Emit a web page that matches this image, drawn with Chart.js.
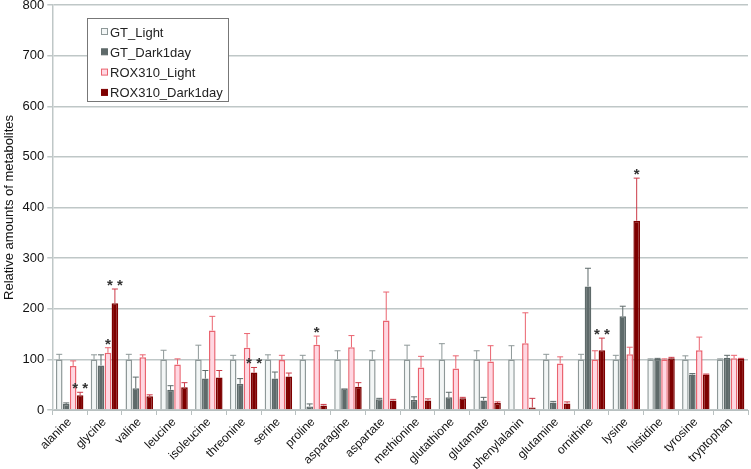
<!DOCTYPE html>
<html>
<head>
<meta charset="utf-8">
<script src="https://cdn.jsdelivr.net/npm/chart.js@4/dist/chart.umd.min.js"></script>
<style>
  html, body { margin: 0; padding: 0; background: #fff; }
  #wrap { width: 751px; height: 469px; }
</style>
</head>
<body>
<div id="wrap"><canvas id="myChart" width="751" height="469"></canvas></div>
<script>
// dati
var metabolites = ["alanine", "glycine", "valine", "leucine", "isoleucine", "threonine", "serine", "proline", "asparagine", "aspartate", "methionine", "glutathione", "glutamate", "phenylalanin", "glutamine", "ornithine", "lysine", "histidine", "tyrosine", "tryptophan"];

var gtLight     = [100, 100, 100, 100, 100, 100, 100, 100, 100, 100, 100, 100, 100, 100, 100, 100, 100, 100, 100, 100];
var gtLightErr  = [10, 9, 10, 18, 28, 8, 9, 8, 17, 17, 28, 31, 17, 27, 10, 10, 8, 1, 7, 1];
var gtDark      = [12, 88, 43, 40, 62, 52, 62, 7, 43, 21, 20, 25, 19, 2, 15, 244, 185, 101, 70, 103];
var gtDarkErr   = [2, 21, 22, 8, 16, 10, 13, 5, 0, 2, 6, 10, 6, 0, 2, 36, 20, 1, 2, 5];
var roxLight    = [87, 113, 104, 90, 157, 123, 99, 129, 124, 177, 84, 82, 96, 132, 92, 100, 110, 100, 118, 102];
var roxLightErr = [10, 10, 5, 11, 28, 28, 9, 17, 23, 56, 22, 25, 31, 60, 13, 17, 14, 1, 26, 6];
var roxDark     = [29, 211, 27, 45, 64, 74, 66, 9, 46, 19, 19, 23, 14, 5, 13, 118, 374, 102, 70, 101];
var roxDarkErr  = [6, 28, 3, 9, 14, 10, 7, 2, 8, 2, 3, 2, 2, 18, 3, 24, 84, 2, 1, 1];

// asterischi di significatività
var sigRoxLight = ["", "*", "", "", "", "", "", "*", "", "", "", "", "", "", "", "", "", "", "", ""];
var sigRoxDark  = ["* *", "* *", "", "", "", "* *", "", "", "", "", "", "", "", "", "", "* *", "*", "", "", ""];

var yTicks = [0, 100, 200, 300, 400, 500, 600, 700, 800];

var FONT = "'Liberation Sans', Arial, Helvetica, sans-serif";

var series = [
  { label: "GT_Light", data: gtLight, err: gtLightErr, sig: null, bg: "#f3f6f6", border: "#8e9898", errColor: "#8e9898" },
  { label: "GT_Dark1day", data: gtDark, err: gtDarkErr, sig: null, bg: "#5e6a6a", border: "#5e6a6a", errColor: "#5e6a6a" },
  { label: "ROX310_Light", data: roxLight, err: roxLightErr, sig: sigRoxLight, bg: "#ffd7e2", border: "#ea6470", errColor: "#ea6470" },
  { label: "ROX310_Dark1day", data: roxDark, err: roxDarkErr, sig: sigRoxDark, bg: "#7e0000", border: "#7e0000", errColor: "#cc3a48" }
];

// disegno barre di errore, asterischi e legenda
var extrasPlugin = {
  id: "extras",
  afterDatasetsDraw: function(chart) {
    var ctx = chart.ctx;
    var yScale = chart.scales.y;
    ctx.save();
    chart.data.datasets.forEach(function(ds, di) {
      var meta = chart.getDatasetMeta(di);
      meta.data.forEach(function(bar, i) {
        var v = ds.data[i];
        var e = ds.errData[i];
        var x = bar.x;
        var yTop = yScale.getPixelForValue(v);
        var yErr = yScale.getPixelForValue(v + e);
        if (e > 0) {
          ctx.strokeStyle = ds.errColor;
          ctx.lineWidth = 1;
          ctx.beginPath();
          ctx.moveTo(x, yTop);
          ctx.lineTo(x, yErr);
          ctx.moveTo(x - 3, yErr);
          ctx.lineTo(x + 3, yErr);
          ctx.stroke();
        }
        if (ds.sig && ds.sig[i]) {
          ctx.fillStyle = "#333";
          ctx.font = "bold 15px " + FONT;
          ctx.textAlign = "center";
          ctx.textBaseline = "alphabetic";
          ctx.fillText(ds.sig[i], x, yErr + 1);
        }
      });
    });
    ctx.restore();
  },
  afterDraw: function(chart) {
    var ctx = chart.ctx;
    ctx.save();
    var bx = 87, by = 18, bw = 141, bh = 83;
    ctx.fillStyle = "#fff";
    ctx.fillRect(bx, by, bw, bh);
    ctx.strokeStyle = "#777";
    ctx.lineWidth = 1;
    ctx.strokeRect(bx + 0.5, by + 0.5, bw, bh);
    ctx.font = "13px " + FONT;
    ctx.textBaseline = "middle";
    ctx.textAlign = "left";
    chart.data.datasets.forEach(function(ds, di) {
      var cy = by + 14 + di * 20.3;
      ctx.fillStyle = ds.backgroundColor;
      ctx.fillRect(101.5, cy - 3.5, 6, 6);
      ctx.strokeStyle = ds.borderColor;
      ctx.strokeRect(101.5, cy - 3.5, 6, 6);
      ctx.fillStyle = "#222";
      ctx.fillText(ds.label, 110, cy + 1);
    });
    ctx.restore();
  }
};

var ctx = document.getElementById('myChart').getContext('2d');
var chart = new Chart(ctx, {
  type: 'bar',
  data: {
    labels: metabolites,
    datasets: series.map(function(s) {
      return {
        label: s.label,
        data: s.data,
        errData: s.err,
        sig: s.sig,
        errColor: s.errColor,
        backgroundColor: s.bg,
        borderColor: s.border,
        borderWidth: 1.5,
        categoryPercentage: 0.8,
        barPercentage: 0.95
      };
    })
  },
  options: {
    responsive: false,
    animation: false,
    layout: { padding: { left: 2, right: 3, top: 0, bottom: 0 } },
    plugins: {
      legend: { display: false },
      tooltip: { enabled: false }
    },
    scales: {
      x: {
        offset: true,
        afterFit: function(axis) { axis.height = 59; },
        grid: { display: true, drawOnChartArea: false, offset: true, color: "#b8c0c0", tickLength: 5 },
        border: { color: "#b8c0c0" },
        ticks: {
          color: "#111",
          font: { family: FONT, size: 12 },
          minRotation: 45,
          maxRotation: 45,
          autoSkip: false,
          padding: 0
        }
      },
      y: {
        min: 0,
        max: 800,
        afterBuildTicks: function(axis) {
          axis.ticks = yTicks.map(function(v) { return { value: v }; });
        },
        afterFit: function(axis) { axis.paddingTop = 5; },
        grid: { color: "#bfc7c7", lineWidth: 1.5, tickLength: 5 },
        border: { color: "#bfc7c7", width: 1.5 },
        ticks: {
          color: "#111",
          font: { family: FONT, size: 13 },
          padding: 3
        },
        title: {
          display: true,
          text: "Relative amounts of metabolites",
          color: "#111",
          font: { family: FONT, size: 13 },
          padding: { top: 0, bottom: 2 }
        }
      }
    }
  },
  plugins: [extrasPlugin]
});
</script>
</body>
</html>
